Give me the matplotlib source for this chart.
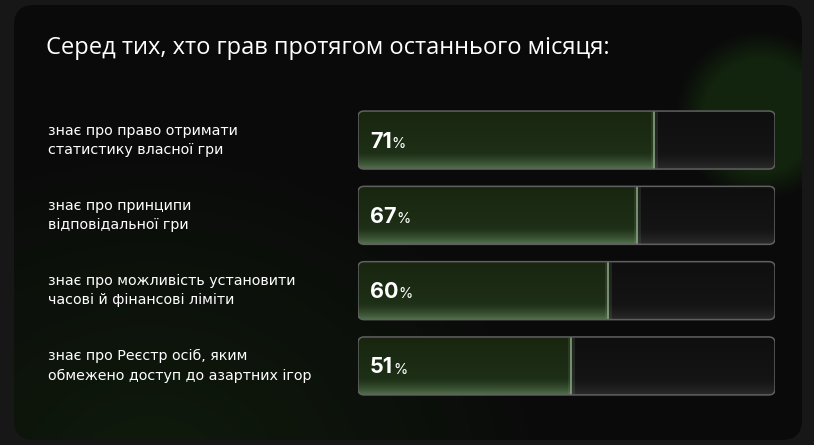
import numpy as np
import matplotlib
matplotlib.use("Agg")
import matplotlib.pyplot as plt
from matplotlib.patches import FancyBboxPatch
from matplotlib.colors import to_rgb

title = "Серед тих, хто грав протягом останнього місяця:"
labels = [
    "знає про право отримати\nстатистику власної гри",
    "знає про принципи\nвідповідальної гри",
    "знає про можливість установити\nчасові й фінансові ліміти",
    "знає про Реєстр осіб, яким\nобмежено доступ до азартних ігор",
]
values = [71, 67, 60, 51]

W, H = 814, 445
fig = plt.figure(figsize=(W / 100, H / 100), dpi=100)
fig.patch.set_facecolor("#171717")

# background panel with soft green glows
bg = fig.add_axes([0, 0, 1, 1])
bg.set_xlim(0, W)
bg.set_ylim(H, 0)
bg.axis("off")
panel = FancyBboxPatch((14, 5), 788, 435, boxstyle="round,pad=0,rounding_size=20",
                       facecolor="#0a0a0a", edgecolor="none")
bg.add_patch(panel)

xx, yy = np.meshgrid(np.arange(W), np.arange(H))
glow = np.zeros((H, W, 4))
glow[..., :3] = np.array(to_rgb("#1d4612"))
d1 = np.hypot(xx - 760, yy - 115) / 85.0
a1 = np.clip((1 - d1) / 0.35, 0, 1) * 0.45
d2 = np.hypot((xx - 150) / 1.2, yy - 480) / 330.0
a2 = np.clip(1 - d2, 0, 1) ** 0.8 * 0.28
glow[..., 3] = np.clip(a1 + a2, 0, 1)
im = bg.imshow(glow, extent=(0, W, H, 0), interpolation="bilinear", zorder=1)
im.set_clip_path(panel)
bg.set_xlim(0, W)
bg.set_ylim(H, 0)

fig.text(46 / W, 1 - 48 / H, title, color="white", fontsize=17,
         family="Open Sans", va="center", ha="left")

# bars
ax = fig.add_axes([358 / W, 1 - 403.6 / H, 417 / W, 301.2 / H])
ax.set_facecolor("none")
ax.axis("off")
n = len(values)
ypos = np.arange(n)[::-1]
bh = 0.77
ax.set_xlim(0, 100)
ax.set_ylim(-0.5, n - 0.5)

px_x = 100 / 417
px_y = n / 301.2
asp = px_y / px_x
rs = 6 * px_x


def vgrad(top, mid, bottom, rows=60):
    t = np.linspace(0, 1, rows)[:, None]
    c0, c1, c2 = (np.array(to_rgb(c)) for c in (top, mid, bottom))
    w = np.clip((t - 0.7) / 0.3, 0, 1) ** 1.5
    col = np.where(t < 0.7, c0 + (c1 - c0) * (t / 0.7), c1 + (c2 - c1) * w)
    return col[:, None, :].repeat(2, axis=1)


track_img = vgrad("#0f0f0f", "#141414", "#2a2a2a")
fill_img = vgrad("#19260f", "#1d2f16", "#51704a")

for y, v, lab in zip(ypos, values, labels):
    y0 = y - bh / 2
    track = FancyBboxPatch((0, y0), 100, bh,
                           boxstyle=f"round,pad=0,rounding_size={rs}",
                           mutation_aspect=asp, facecolor="none",
                           edgecolor="none", zorder=1)
    ax.add_patch(track)
    t_im = ax.imshow(track_img, extent=(0, 100, y0, y0 + bh), aspect="auto",
                     origin="upper", zorder=1)
    t_im.set_clip_path(track)

    ax.barh(y, v, height=bh, color="none", zorder=2)
    f_im = ax.imshow(fill_img, extent=(0, v, y0, y0 + bh), aspect="auto",
                     origin="upper", zorder=2)
    f_im.set_clip_path(track)
    for lw, al in ((1.2, 1.0), (5, 0.15)):
        ln, = ax.plot([v, v], [y0, y0 + bh], color="#86a080", lw=lw, alpha=al,
                      zorder=3, solid_capstyle="butt")
        ln.set_clip_path(track)

    outline = FancyBboxPatch((0, y0), 100, bh,
                             boxstyle=f"round,pad=0,rounding_size={rs}",
                             mutation_aspect=asp, facecolor="none",
                             edgecolor="#606060", lw=1.1, zorder=4)
    ax.add_patch(outline)

    num = ax.text(2.9, y - 0.02, str(v), color="white", fontsize=15.5,
                  fontweight="bold", family="Inter", va="center", ha="left",
                  zorder=5)
    ax.annotate("%", xy=(1, 0.5), xycoords=num, xytext=(0, -1.5),
                textcoords="offset points", color="white", fontsize=10.5,
                family="Inter", va="center", ha="left", zorder=5)

    fig.text(48 / W, ax.transData.transform((0, y))[1] / H, lab,
             color="white", fontsize=10.3, family="DejaVu Sans",
             va="center", ha="left", linespacing=1.45)

ax.set_xlim(0, 100)
ax.set_ylim(-0.5, n - 0.5)

fig.savefig("out.png", dpi=100, facecolor=fig.get_facecolor())
